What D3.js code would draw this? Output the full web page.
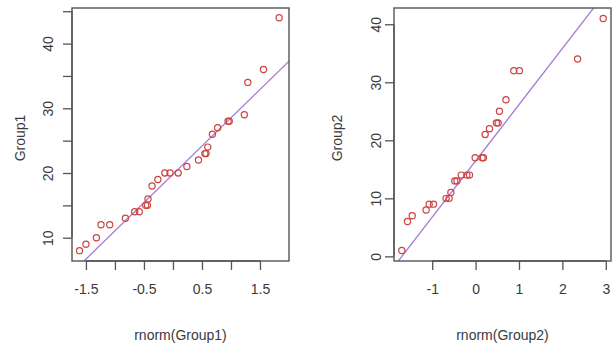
<!DOCTYPE html>
<html>
<head>
<meta charset="utf-8">
<script src="https://cdn.jsdelivr.net/npm/d3@7"></script>
<style>
  html, body { margin: 0; padding: 0; background: #fff; }
  svg text { font-family: "Liberation Sans", Arial, sans-serif; fill: #3a3a3a; }
</style>
</head>
<body>
<div id="chart"></div>
<script>
// Q-Q plots: theoretical quantiles (x) vs sample values (y)
var group1X = [-1.61, -1.50, -1.32, -1.24, -1.09, -0.82, -0.66, -0.58, -0.47, -0.44,
               -0.43, -0.36, -0.26, -0.14, -0.05, 0.09, 0.24, 0.44, 0.55, 0.57,
               0.60, 0.68, 0.77, 0.95, 0.97, 1.23, 1.29, 1.56, 1.83];
var group1Y = [8, 9, 10, 12, 12, 13, 14, 14, 15, 15,
               16, 18, 19, 20, 20, 20, 21, 22, 23, 23,
               24, 26, 27, 28, 28, 29, 34, 36, 44];
var group2X = [-1.70, -1.57, -1.46, -1.14, -1.07, -0.97, -0.68, -0.61, -0.57, -0.48,
               -0.43, -0.33, -0.20, -0.14, -0.01, 0.15, 0.18, 0.22, 0.32, 0.48,
               0.52, 0.55, 0.70, 0.88, 1.01, 2.35, 2.94];
var group2Y = [1, 6, 7, 8, 9, 9, 10, 10, 11, 13,
               13, 14, 14, 14, 17, 17, 17, 21, 22, 23,
               23, 25, 27, 32, 32, 34, 41];

// qqline fits (intercept, slope)
var group1Line = [19.8, 8.74];
var group2Line = [16.45, 9.69];

var group1XTicks = [-1.5, -1, -0.5, 0, 0.5, 1, 1.5];
var group1XLabels = [-1.5, -0.5, 0.5, 1.5];
var group1YTicks = [10, 15, 20, 25, 30, 35, 40, 45];
var group1YLabels = [10, 20, 30, 40];
var group2XTicks = [-1, 0, 1, 2, 3];
var group2YTicks = [0, 10, 20, 30, 40];

var panels = [
  { xs: group1X, ys: group1Y, line: group1Line, xDomain: [-1.74, 2.0], yDomain: [6.4, 45.5],
    box: [72, 8, 289, 261], xTicks: group1XTicks, xLabels: group1XLabels,
    yTicks: group1YTicks, yLabels: group1YLabels, yTitle: 'Group1', xTitle: 'rnorm(Group1)',
    yTitleX: 20, yTickX: 48 },
  { xs: group2X, ys: group2Y, line: group2Line, xDomain: [-1.88, 3.12], yDomain: [-0.8, 42.8],
    box: [394, 8, 611, 261], xTicks: group2XTicks, xLabels: group2XTicks,
    yTicks: group2YTicks, yLabels: group2YTicks, yTitle: 'Group2', xTitle: 'rnorm(Group2)',
    yTitleX: 337, yTickX: 376 }
];

var svg = d3.select('#chart').append('svg')
  .attr('width', 613)
  .attr('height', 347);

var fmt = function (v) { return String(v); };
var FS = 14;

panels.forEach(function (p, pi) {
  var b = p.box;
  var x = d3.scaleLinear().domain(p.xDomain).range([b[0], b[2]]);
  var y = d3.scaleLinear().domain(p.yDomain).range([b[3], b[1]]);

  var clipId = 'clip' + pi;
  svg.append('clipPath').attr('id', clipId)
    .append('rect')
    .attr('x', b[0]).attr('y', b[1])
    .attr('width', b[2] - b[0]).attr('height', b[3] - b[1]);

  // fitted line
  svg.append('line')
    .attr('clip-path', 'url(#' + clipId + ')')
    .attr('x1', x(p.xDomain[0])).attr('y1', y(p.line[0] + p.line[1] * p.xDomain[0]))
    .attr('x2', x(p.xDomain[1])).attr('y2', y(p.line[0] + p.line[1] * p.xDomain[1]))
    .attr('stroke', '#a67ad6')
    .attr('stroke-width', 1.3);

  // points
  svg.append('g').selectAll('circle')
    .data(p.xs)
    .join('circle')
    .attr('cx', function (d) { return x(d); })
    .attr('cy', function (d, i) { return y(p.ys[i]); })
    .attr('r', 3.1)
    .attr('fill', 'none')
    .attr('stroke', '#cc4444')
    .attr('stroke-width', 1.2);

  // box
  svg.append('rect')
    .attr('x', b[0]).attr('y', b[1])
    .attr('width', b[2] - b[0]).attr('height', b[3] - b[1])
    .attr('fill', 'none')
    .attr('stroke', '#555')
    .attr('stroke-width', 1.4);

  // x axis
  var xAxis = d3.axisBottom(x)
    .tickValues(p.xTicks)
    .tickSize(9)
    .tickPadding(14)
    .tickFormat(function (d) { return p.xLabels.indexOf(d) >= 0 ? fmt(d) : ''; });
  var gx = svg.append('g')
    .attr('transform', 'translate(0,' + b[3] + ')')
    .call(xAxis);
  gx.select('.domain')
    .attr('d', 'M' + x(p.xTicks[0]) + ',0H' + x(p.xTicks[p.xTicks.length - 1]))
    .attr('stroke', '#555').attr('stroke-width', 1.3);
  gx.selectAll('.tick line').attr('stroke', '#555').attr('stroke-width', 1.3);
  gx.selectAll('text').attr('font-size', FS).attr('fill', '#3a3a3a');

  // y axis
  var yAxis = d3.axisLeft(y)
    .tickValues(p.yTicks)
    .tickSize(9)
    .tickFormat(function (d) { return p.yLabels.indexOf(d) >= 0 ? fmt(d) : ''; });
  var gy = svg.append('g')
    .attr('transform', 'translate(' + b[0] + ',0)')
    .call(yAxis);
  gy.select('.domain')
    .attr('d', 'M0,' + y(p.yTicks[0]) + 'V' + y(p.yTicks[p.yTicks.length - 1]))
    .attr('stroke', '#555').attr('stroke-width', 1.3);
  gy.selectAll('.tick line').attr('stroke', '#555').attr('stroke-width', 1.3);
  gy.selectAll('text')
    .attr('font-size', FS)
    .attr('fill', '#3a3a3a')
    .attr('x', null)
    .attr('dy', null)
    .attr('text-anchor', 'middle')
    .attr('dominant-baseline', 'central')
    .attr('transform', 'translate(' + (p.yTickX - b[0]) + ',0) rotate(-90)');

  // titles
  svg.append('text')
    .attr('x', (b[0] + b[2]) / 2)
    .attr('y', 335)
    .attr('text-anchor', 'middle')
    .attr('dominant-baseline', 'central')
    .attr('font-size', FS)
    .text(p.xTitle);

  svg.append('text')
    .attr('transform', 'translate(' + p.yTitleX + ',' + 138 + ') rotate(-90)')
    .attr('text-anchor', 'middle')
    .attr('dominant-baseline', 'central')
    .attr('font-size', FS)
    .text(p.yTitle);
});
</script>
</body>
</html>
